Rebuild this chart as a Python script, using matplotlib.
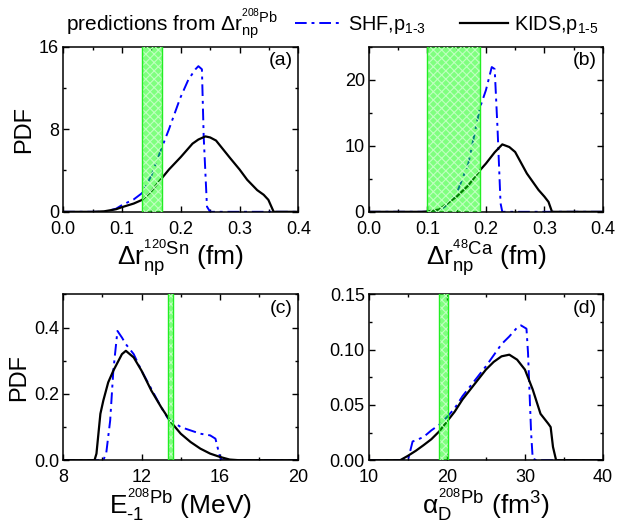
import numpy as np
import matplotlib
matplotlib.use("Agg")
import matplotlib.pyplot as plt
from matplotlib.lines import Line2D
from matplotlib.ticker import MultipleLocator

plt.rcParams['font.family'] = ['Liberation Sans', 'DejaVu Sans']
plt.rcParams['mathtext.fontset'] = 'custom'
plt.rcParams['mathtext.rm'] = 'Liberation Sans'
plt.rcParams['mathtext.it'] = 'Liberation Sans'
plt.rcParams['mathtext.bf'] = 'Liberation Sans:bold'
plt.rcParams['hatch.linewidth'] = 0.8

# (a) Delta r_np of 120Sn
a_kids_x = [0.0, 0.05, 0.07, 0.09, 0.10, 0.12, 0.134, 0.15, 0.167, 0.18, 0.20, 0.22, 0.23, 0.242,
            0.25, 0.26, 0.284, 0.30, 0.313, 0.33, 0.341, 0.349, 0.358, 0.4]
a_kids_y = [0, 0, 0.05, 0.25, 0.45, 0.8, 1.15, 2.0, 3.2, 4.1, 5.3, 6.6, 7.0, 7.3,
            7.2, 6.9, 5.2, 4.1, 3.1, 2.1, 1.65, 1.16, 0, 0]
a_shf_x = [0.0, 0.07, 0.09, 0.10, 0.12, 0.134, 0.15, 0.167, 0.18, 0.199, 0.213, 0.225,
           0.230, 0.236, 0.239, 0.2446, 0.25, 0.4]
a_shf_y = [0, 0, 0.3, 0.65, 1.2, 1.8, 3.5, 6.1, 8.0, 11.0, 12.8, 13.8,
           14.1, 13.8, 7.3, 0.5, 0, 0]
a_band = [0.134, 0.168]

# (b) Delta r_np of 48Ca
b_kids_x = [0.0, 0.09, 0.10, 0.12, 0.15, 0.17, 0.19, 0.20, 0.215, 0.228, 0.24, 0.25,
            0.27, 0.29, 0.30, 0.307, 0.313, 0.4]
b_kids_y = [0, 0, 0.05, 0.35, 2.3, 4.0, 6.3, 7.3, 9.0, 10.2, 9.8, 9.05,
            5.8, 3.3, 2.3, 1.5, 0, 0]
b_shf_x = [0.0, 0.11, 0.12, 0.13, 0.15, 0.17, 0.19, 0.20, 0.21, 0.215, 0.22, 0.225, 0.228, 0.4]
b_shf_y = [0, 0, 0.2, 0.8, 2.8, 7.3, 15.8, 18.4, 21.9, 21.6, 12.3, 1.3, 0, 0]
b_band = [0.10, 0.19]

# (c) E_-1 of 208Pb
c_kids_x = [8, 9.6, 9.7, 9.8, 9.9, 10.05, 10.3, 10.56, 11.0, 11.2, 11.6, 12.0, 12.5, 13.0,
            13.5, 14.0, 14.5, 15.0, 15.5, 16.0, 16.5, 17.0, 20]
c_kids_y = [0, 0, 0.02, 0.08, 0.14, 0.18, 0.235, 0.27, 0.32, 0.33, 0.31, 0.27, 0.21, 0.16,
            0.115, 0.08, 0.055, 0.035, 0.02, 0.01, 0.002, 0, 0]
c_shf_x = [8, 10.05, 10.2, 10.4, 10.56, 10.77, 11.0, 11.2, 11.6, 12.0, 12.5, 13.0, 13.35,
           14.0, 14.5, 15.0, 15.5, 15.77, 16.0, 16.1, 20]
c_shf_y = [0, 0, 0.022, 0.12, 0.27, 0.39, 0.37, 0.35, 0.32, 0.27, 0.215, 0.16, 0.126,
           0.1, 0.09, 0.08, 0.075, 0.065, 0.01, 0, 0]
c_band = [13.35, 13.6]

# (d) alpha_D of 208Pb
d_kids_x = [10, 14, 15, 16, 17, 18, 19, 20, 21, 22, 23, 24, 25, 26, 27, 28, 29, 30,
            31, 32, 33, 33.3, 33.6, 34, 40]
d_kids_y = [0, 0, 0.004, 0.0085, 0.0136, 0.019, 0.026, 0.035, 0.044, 0.055, 0.064, 0.073,
            0.082, 0.089, 0.094, 0.0955, 0.091, 0.082, 0.064, 0.042, 0.033, 0.03, 0.012, 0, 0]
d_shf_x = [10, 15.0, 15.6, 16, 17, 18, 19, 20, 21, 22, 23, 24, 25, 26, 27, 28, 29, 29.5,
           30.2, 30.4, 30.6, 30.8, 31, 31.5, 40]
d_shf_y = [0, 0, 0.017, 0.018, 0.021, 0.027, 0.032, 0.039, 0.047, 0.058, 0.067, 0.076,
           0.085, 0.095, 0.105, 0.112, 0.12, 0.122, 0.119, 0.097, 0.06, 0.024, 0.0015, 0, 0]
d_band = [19.0, 20.2]

shf_style = (0, (6, 2.5, 1.5, 2.5))

fig = plt.figure(figsize=(6.19, 5.23), dpi=100)

panels = [
    ([0.102, 0.595, 0.380, 0.316], a_kids_x, a_kids_y, a_shf_x, a_shf_y, a_band,
     (0, 0.4), (0, 16), 0.1, 0.05, 8, 4, '%.1f', '%d',
     r'$\Delta\mathrm{r}_{\mathrm{np}}^{^{120}\mathrm{Sn}}$ (fm)', True, '(a)'),
    ([0.596, 0.595, 0.378, 0.316], b_kids_x, b_kids_y, b_shf_x, b_shf_y, b_band,
     (0, 0.4), (0, 25), 0.1, 0.05, 10, 5, '%.1f', '%d',
     r'$\Delta\mathrm{r}_{\mathrm{np}}^{^{48}\mathrm{Ca}}$ (fm)', False, '(b)'),
    ([0.102, 0.120, 0.380, 0.317], c_kids_x, c_kids_y, c_shf_x, c_shf_y, c_band,
     (8, 20), (0, 0.5), 4, 2, 0.2, 0.1, '%d', '%.1f',
     r'$\mathrm{E}_{\mathrm{\text{-}1}}^{^{208}\mathrm{Pb}}$ (MeV)', True, '(c)'),
    ([0.596, 0.120, 0.378, 0.317], d_kids_x, d_kids_y, d_shf_x, d_shf_y, d_band,
     (10, 40), (0, 0.15), 10, 5, 0.05, 0.025, '%d', '%.2f',
     r'$\alpha_{\mathrm{D}}^{^{208}\mathrm{Pb}}$ (fm$^3$)', False, '(d)'),
]

for (pos, kx, ky, sx, sy, band, xl, yl, xmaj, xmin, ymaj, ymin, xfmt, yfmt,
     xlabel, show_pdf, tag) in panels:
    ax = fig.add_axes(pos)
    ax.plot(sx, sy, color='#0000ff', lw=1.4, linestyle=shf_style)
    ax.plot(kx, ky, color='black', lw=1.6)
    ax.axvspan(band[0], band[1], facecolor='#00ff00', alpha=0.5, edgecolor='none', zorder=3)
    ax.axvspan(band[0], band[1], facecolor='none', edgecolor='#c0ffc0', hatch='xxxx',
               lw=0, zorder=3)
    ax.axvline(band[0], color='#22ee22', lw=1.0, zorder=3)
    ax.axvline(band[1], color='#22ee22', lw=1.0, zorder=3)
    ax.set_xlim(xl)
    ax.set_ylim(yl)
    ax.xaxis.set_major_locator(MultipleLocator(xmaj))
    ax.xaxis.set_minor_locator(MultipleLocator(xmin))
    ax.yaxis.set_major_locator(MultipleLocator(ymaj))
    ax.yaxis.set_minor_locator(MultipleLocator(ymin))
    ax.xaxis.set_major_formatter(plt.FormatStrFormatter(xfmt))
    ax.yaxis.set_major_formatter(plt.FormatStrFormatter(yfmt))
    ax.tick_params(which='both', direction='in', top=True, right=True, labelsize=13)
    ax.tick_params(axis='x', pad=6.5)
    ax.tick_params(axis='y', pad=3)
    ax.tick_params(which='major', length=4.5, width=1.0)
    ax.tick_params(which='minor', length=2.5, width=1.0)
    for sp in ax.spines.values():
        sp.set_linewidth(1.1)
    ax.set_xlabel(xlabel, fontsize=19, labelpad=0)
    if show_pdf:
        ax.set_ylabel('PDF', fontsize=17, labelpad=3)
    ax.text(0.975, 0.965, tag, transform=ax.transAxes, ha='right', va='top', fontsize=14)

fig.text(0.107, 0.953, r'predictions from $\Delta\mathrm{r}_{\mathrm{np}}^{^{208}\mathrm{Pb}}$',
         fontsize=15, va='center', ha='left')
handles = [Line2D([], [], color='#0000ff', lw=1.4, linestyle=shf_style),
           Line2D([], [], color='black', lw=1.6)]
fig.legend(handles, [r'SHF,p$_{\mathrm{1\text{-}3}}$', r'KIDS,p$_{\mathrm{1\text{-}5}}$'],
           loc='center left', bbox_to_anchor=(0.476, 0.953), ncol=2, frameon=False,
           fontsize=14.3, handlelength=2.4, handletextpad=0.3, columnspacing=1.7,
           borderpad=0, borderaxespad=0)

fig.savefig('out.png', dpi=100)
